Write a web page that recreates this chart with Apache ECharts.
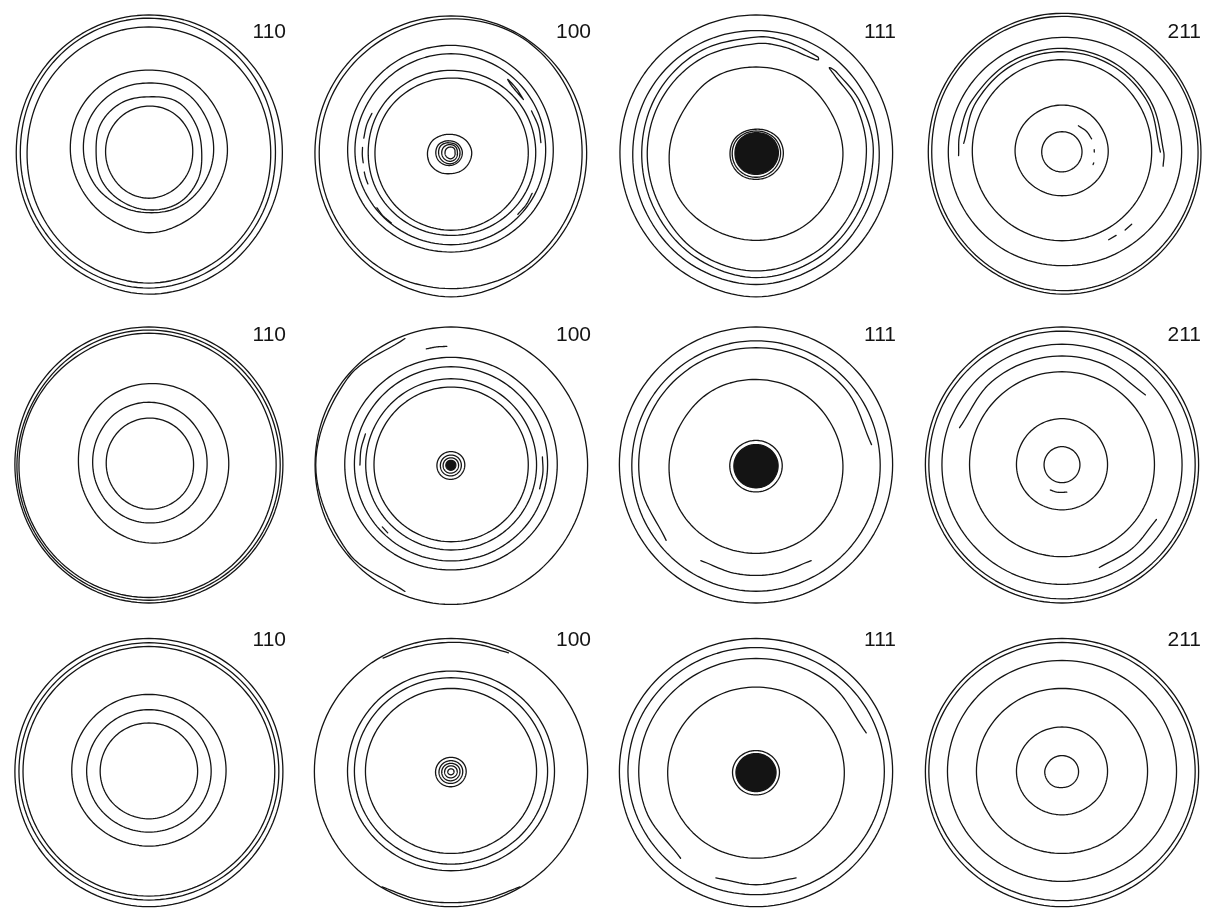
<!DOCTYPE html>
<html>
<head>
<meta charset="utf-8">
<title>Pole figures</title>
<script src="https://cdn.jsdelivr.net/npm/echarts@6.0.0/dist/echarts.min.js"></script>
<style>
  html, body { margin: 0; padding: 0; background: #fff; }
  #chart { width: 1222px; height: 918px; }
</style>
</head>
<body>
<div id="chart"></div>
<script>
// Pole figures of three samples (rows) for the 110, 100, 111 and 211 poles (columns).
// Closed contours are radii (fraction of the projection radius) sampled at ANGLES;
// open arcs and irregular loops are lists of [azimuth in degrees, radius].
const ANGLES = [0, 30, 60, 90, 120, 150, 180, 210, 240, 270, 300, 330];
const POLES = ['110', '100', '111', '211'];

// ---------- sample 1 ----------
const S1_110_RINGS = [
  [0.986, 0.988, 0.991, 0.993, 0.99, 0.984, 0.98, 0.99, 1.01, 1.03, 1.015, 0.995],
  [0.935, 0.947, 0.96, 0.97, 0.965, 0.957, 0.95, 0.96, 0.975, 0.986, 0.97, 0.95],
  [0.9, 0.903, 0.905, 0.906, 0.905, 0.902, 0.9, 0.915, 0.935, 0.95, 0.935, 0.915],
  [0.58, 0.585, 0.6, 0.594, 0.6, 0.595, 0.58, 0.565, 0.565, 0.585, 0.57, 0.565],
  [0.478, 0.49, 0.51, 0.5, 0.505, 0.5, 0.483, 0.465, 0.445, 0.44, 0.456, 0.465],
  [0.39, 0.4, 0.42, 0.4, 0.41, 0.41, 0.39, 0.405, 0.41, 0.42, 0.43, 0.415],
  [0.324, 0.33, 0.335, 0.333, 0.33, 0.325, 0.32, 0.322, 0.33, 0.335, 0.33, 0.326]
];
const S1_100_RINGS = [
  [0.983, 0.985, 0.985, 0.986, 0.986, 0.986, 0.986, 0.995, 1.02, 1.05, 1.02, 0.995],
  [0.95, 0.96, 0.975, 0.965, 0.955, 0.955, 0.955, 0.965, 0.985, 0.99, 0.99, 0.965],
  [0.741, 0.75, 0.765, 0.773, 0.768, 0.757, 0.749, 0.74, 0.73, 0.725, 0.728, 0.735],
  [0.686, 0.695, 0.705, 0.712, 0.708, 0.7, 0.696, 0.685, 0.675, 0.672, 0.675, 0.68],
  [0.614, 0.61, 0.6, 0.592, 0.595, 0.6, 0.6, 0.605, 0.605, 0.604, 0.61, 0.615],
  [0.56, 0.555, 0.545, 0.536, 0.54, 0.548, 0.551, 0.557, 0.563, 0.567, 0.565, 0.562],
  [0.15, 0.14, 0.13, 0.128, 0.138, 0.158, 0.17, 0.175, 0.168, 0.157, 0.155, 0.152],
  [0.082, 0.078, 0.078, 0.08, 0.09, 0.105, 0.11, 0.11, 0.104, 0.097, 0.09, 0.085],
  [0.065, 0.063, 0.064, 0.065, 0.075, 0.087, 0.09, 0.09, 0.088, 0.085, 0.078, 0.07],
  [0.046, 0.048, 0.051, 0.053, 0.058, 0.064, 0.067, 0.069, 0.069, 0.067, 0.06, 0.052],
  [0.029, 0.032, 0.035, 0.036, 0.038, 0.041, 0.043, 0.046, 0.048, 0.049, 0.042, 0.034]
];
const S1_100_ARCS = [
  [[154, 0.638], [162, 0.642], [171, 0.64]],
  [[177, 0.642], [182, 0.643], [187, 0.641]],
  [[193, 0.645], [197, 0.646], [201, 0.645]],
  [[36, 0.648], [44, 0.66], [52, 0.668], [48, 0.652], [40, 0.645], [36, 0.648]],
  [[6, 0.655], [16, 0.66], [27, 0.655]],
  [[317, 0.662], [325, 0.665], [333, 0.66]],
  [[217, 0.672], [223, 0.676], [230, 0.672]]
];
const S1_111_RINGS = [
  [0.99, 0.99, 0.992, 0.993, 0.99, 0.988, 0.986, 0.995, 1.02, 1.05, 1.02, 0.998],
  [0.893, 0.89, 0.885, 0.88, 0.885, 0.89, 0.893, 0.91, 0.94, 0.96, 0.94, 0.91],
  [0.63, 0.613, 0.62, 0.616, 0.62, 0.605, 0.628, 0.65, 0.64, 0.64, 0.64, 0.63],
  [0.198, 0.19, 0.175, 0.165, 0.17, 0.182, 0.188, 0.195, 0.2, 0.198, 0.2, 0.2],
  [0.178, 0.17, 0.158, 0.152, 0.156, 0.166, 0.172, 0.178, 0.182, 0.183, 0.182, 0.18]
];
const S1_111_LOOPS = [
  [[57, 0.822], [75, 0.83], [90, 0.833], [120, 0.835], [150, 0.83], [180, 0.828], [210, 0.845],
   [240, 0.88], [270, 0.91], [300, 0.89], [330, 0.86], [360, 0.85], [385, 0.837], [405, 0.822],
   [409, 0.81], [405, 0.797], [385, 0.8], [360, 0.8], [330, 0.815], [300, 0.845], [270, 0.862],
   [240, 0.84], [210, 0.8], [180, 0.788], [150, 0.785], [120, 0.785], [90, 0.785], [75, 0.787],
   [60, 0.79], [56, 0.805]]
];
const S1_111_FILLS = [
  [0.162, 0.156, 0.146, 0.14, 0.143, 0.149, 0.152, 0.158, 0.162, 0.162, 0.163, 0.163]
];
const S1_211_RINGS = [
  [1.007, 1.005, 1.005, 1.005, 0.995, 0.98, 0.969, 0.98, 1.005, 1.03, 1.025, 1.015],
  [0.986, 0.985, 0.984, 0.983, 0.973, 0.958, 0.944, 0.957, 0.983, 1.005, 1.0, 0.992],
  [0.867, 0.86, 0.845, 0.831, 0.826, 0.824, 0.824, 0.823, 0.823, 0.824, 0.835, 0.852],
  [0.65, 0.655, 0.663, 0.669, 0.665, 0.656, 0.65, 0.646, 0.643, 0.643, 0.645, 0.648],
  [0.335, 0.335, 0.34, 0.34, 0.34, 0.342, 0.34, 0.33, 0.32, 0.317, 0.32, 0.328],
  [0.145, 0.146, 0.148, 0.147, 0.147, 0.147, 0.147, 0.146, 0.145, 0.144, 0.143, 0.144]
];
const S1_211_ARCS = [
  [[-8, 0.74], [0, 0.737], [30, 0.74], [60, 0.748], [90, 0.751], [120, 0.752], [150, 0.752], [170, 0.752], [182, 0.75]],
  [[0, 0.713], [30, 0.718], [60, 0.724], [90, 0.727], [120, 0.725], [150, 0.72], [175, 0.715]],
  [[24, 0.235], [40, 0.232], [58, 0.224]],
  [[0, 0.234], [4, 0.234]],
  [[-19, 0.243], [-22, 0.243]],
  [[298, 0.72], [303, 0.72]],
  [[309, 0.727], [314, 0.727]]
];

// ---------- sample 2 ----------
const S2_110_RINGS = [
  [0.99, 0.995, 1.0, 1.0, 1.0, 0.995, 0.99, 0.99, 0.995, 1.0, 0.995, 0.99],
  [0.97, 0.972, 0.975, 0.978, 0.975, 0.97, 0.975, 0.975, 0.978, 0.98, 0.975, 0.972],
  [0.94, 0.945, 0.95, 0.955, 0.95, 0.955, 0.96, 0.96, 0.96, 0.96, 0.955, 0.945],
  [0.59, 0.595, 0.6, 0.59, 0.575, 0.545, 0.52, 0.52, 0.54, 0.565, 0.58, 0.585],
  [0.43, 0.44, 0.45, 0.455, 0.45, 0.43, 0.415, 0.41, 0.415, 0.42, 0.425, 0.43],
  [0.33, 0.335, 0.34, 0.34, 0.335, 0.325, 0.315, 0.312, 0.315, 0.32, 0.325, 0.33]
];
const S2_100_RINGS = [
  [0.99, 0.99, 0.995, 1.0, 0.995, 0.99, 0.985, 0.99, 1.0, 1.01, 1.0, 0.99],
  [0.77, 0.775, 0.78, 0.78, 0.78, 0.775, 0.77, 0.77, 0.765, 0.76, 0.765, 0.77],
  [0.7, 0.705, 0.71, 0.712, 0.71, 0.705, 0.7, 0.698, 0.696, 0.695, 0.697, 0.7],
  [0.62, 0.622, 0.625, 0.625, 0.623, 0.62, 0.618, 0.616, 0.615, 0.616, 0.618, 0.62],
  [0.56, 0.562, 0.565, 0.565, 0.563, 0.56, 0.558, 0.556, 0.555, 0.556, 0.558, 0.56],
  [0.1, 0.1, 0.098, 0.097, 0.098, 0.1, 0.102, 0.104, 0.105, 0.104, 0.102, 0.1],
  [0.075, 0.074, 0.073, 0.072, 0.073, 0.075, 0.077, 0.079, 0.08, 0.079, 0.077, 0.076],
  [0.055, 0.054, 0.053, 0.052, 0.053, 0.055, 0.057, 0.059, 0.06, 0.059, 0.057, 0.056]
];
const S2_100_ARCS = [
  [[110, 0.975], [140, 0.978], [180, 0.98], [220, 0.978], [250, 0.975]],
  [[92, 0.86], [97, 0.862], [102, 0.86]],
  [[160, 0.66], [170, 0.662], [180, 0.66]],
  [[345, 0.665], [355, 0.668], [5, 0.665]],
  [[222, 0.67], [227, 0.672]]
];
const S2_100_FILLS = [
  [0.035, 0.035, 0.034, 0.034, 0.035, 0.036, 0.037, 0.038, 0.038, 0.038, 0.037, 0.036]
];
const S2_111_RINGS = [
  [0.99, 0.995, 1.0, 1.0, 1.0, 0.995, 0.99, 0.99, 0.995, 1.0, 0.995, 0.99],
  [0.9, 0.9, 0.9, 0.9, 0.9, 0.9, 0.9, 0.905, 0.91, 0.915, 0.91, 0.905],
  [0.63, 0.62, 0.62, 0.62, 0.625, 0.62, 0.63, 0.64, 0.64, 0.64, 0.64, 0.635],
  [0.19, 0.185, 0.18, 0.178, 0.18, 0.185, 0.19, 0.192, 0.195, 0.195, 0.195, 0.192]
];
const S2_111_ARCS = [
  [[10, 0.85], [40, 0.85], [70, 0.85], [100, 0.85], [130, 0.85], [160, 0.85], [190, 0.85], [220, 0.85]],
  [[240, 0.8], [260, 0.8], [280, 0.8], [300, 0.8]]
];
const S2_111_FILLS = [
  [0.16, 0.155, 0.15, 0.148, 0.15, 0.155, 0.16, 0.163, 0.165, 0.165, 0.165, 0.162]
];
const S2_211_RINGS = [
  [0.99, 0.995, 1.0, 1.0, 1.0, 0.995, 0.99, 0.99, 0.995, 1.0, 0.995, 0.99],
  [0.965, 0.968, 0.97, 0.97, 0.97, 0.968, 0.965, 0.965, 0.967, 0.97, 0.968, 0.966],
  [0.87, 0.872, 0.874, 0.875, 0.874, 0.872, 0.87, 0.868, 0.866, 0.865, 0.866, 0.868],
  [0.67, 0.672, 0.675, 0.676, 0.675, 0.672, 0.67, 0.668, 0.665, 0.664, 0.665, 0.668],
  [0.33, 0.332, 0.335, 0.336, 0.335, 0.332, 0.33, 0.328, 0.326, 0.325, 0.326, 0.328],
  [0.13, 0.131, 0.132, 0.133, 0.132, 0.131, 0.13, 0.129, 0.128, 0.128, 0.128, 0.129]
];
const S2_211_ARCS = [
  [[40, 0.79], [70, 0.79], [100, 0.79], [130, 0.79], [160, 0.79]],
  [[290, 0.79], [310, 0.79], [330, 0.79]],
  [[245, 0.2], [260, 0.2], [280, 0.2]]
];

// ---------- sample 3 ----------
const S3_110_RINGS = [
  [0.99, 0.995, 1.0, 1.0, 1.0, 0.995, 0.99, 0.995, 1.005, 1.015, 1.005, 0.995],
  [0.96, 0.962, 0.965, 0.968, 0.965, 0.962, 0.96, 0.96, 0.962, 0.965, 0.962, 0.96],
  [0.93, 0.932, 0.935, 0.94, 0.935, 0.932, 0.93, 0.93, 0.932, 0.935, 0.932, 0.93],
  [0.57, 0.575, 0.58, 0.58, 0.58, 0.575, 0.57, 0.565, 0.56, 0.56, 0.56, 0.565],
  [0.46, 0.462, 0.465, 0.465, 0.465, 0.462, 0.46, 0.458, 0.455, 0.455, 0.455, 0.458],
  [0.36, 0.362, 0.365, 0.365, 0.365, 0.362, 0.36, 0.358, 0.355, 0.355, 0.355, 0.358]
];
const S3_100_RINGS = [
  [0.99, 0.995, 1.0, 1.0, 1.0, 0.995, 0.99, 0.995, 1.005, 1.015, 1.005, 0.995],
  [0.75, 0.752, 0.755, 0.755, 0.755, 0.752, 0.75, 0.748, 0.745, 0.745, 0.745, 0.748],
  [0.7, 0.702, 0.705, 0.705, 0.705, 0.702, 0.7, 0.698, 0.695, 0.695, 0.695, 0.698],
  [0.62, 0.622, 0.625, 0.625, 0.625, 0.622, 0.62, 0.618, 0.615, 0.615, 0.615, 0.618],
  [0.11, 0.11, 0.108, 0.107, 0.108, 0.11, 0.112, 0.114, 0.115, 0.114, 0.112, 0.11],
  [0.085, 0.085, 0.083, 0.082, 0.083, 0.085, 0.087, 0.089, 0.09, 0.089, 0.087, 0.085],
  [0.065, 0.065, 0.063, 0.062, 0.063, 0.065, 0.067, 0.069, 0.07, 0.069, 0.067, 0.065],
  [0.045, 0.045, 0.044, 0.043, 0.044, 0.045, 0.046, 0.047, 0.048, 0.047, 0.046, 0.045],
  [0.022, 0.022, 0.021, 0.021, 0.021, 0.022, 0.023, 0.024, 0.024, 0.024, 0.023, 0.022]
];
const S3_100_ARCS = [
  [[65, 0.985], [80, 0.975], [95, 0.97], [110, 0.975], [120, 0.985]],
  [[240, 1.0], [255, 0.99], [270, 0.985], [285, 0.99], [300, 1.0]]
];
const S3_111_RINGS = [
  [0.99, 0.995, 1.0, 1.0, 1.0, 0.995, 0.99, 0.995, 1.005, 1.015, 1.005, 0.995],
  [0.93, 0.93, 0.93, 0.932, 0.932, 0.93, 0.928, 0.926, 0.925, 0.925, 0.926, 0.928],
  [0.64, 0.635, 0.635, 0.635, 0.635, 0.635, 0.64, 0.645, 0.65, 0.65, 0.65, 0.645],
  [0.17, 0.165, 0.16, 0.158, 0.16, 0.165, 0.17, 0.172, 0.175, 0.175, 0.175, 0.172]
];
const S3_111_ARCS = [
  [[20, 0.85], [50, 0.85], [80, 0.85], [110, 0.85], [140, 0.85], [170, 0.85], [200, 0.85], [230, 0.85]],
  [[250, 0.85], [270, 0.85], [290, 0.85]]
];
const S3_111_FILLS = [
  [0.145, 0.14, 0.137, 0.135, 0.137, 0.14, 0.145, 0.148, 0.15, 0.15, 0.15, 0.148]
];
const S3_211_RINGS = [
  [0.99, 0.995, 1.0, 1.0, 1.0, 0.995, 0.99, 0.995, 1.005, 1.015, 1.005, 0.995],
  [0.965, 0.968, 0.97, 0.97, 0.97, 0.968, 0.965, 0.965, 0.967, 0.97, 0.968, 0.966],
  [0.83, 0.832, 0.835, 0.835, 0.835, 0.832, 0.83, 0.828, 0.825, 0.825, 0.825, 0.828],
  [0.62, 0.622, 0.625, 0.625, 0.625, 0.622, 0.62, 0.618, 0.615, 0.615, 0.615, 0.618],
  [0.33, 0.332, 0.335, 0.335, 0.335, 0.332, 0.33, 0.328, 0.325, 0.325, 0.325, 0.328],
  [0.12, 0.12, 0.12, 0.12, 0.12, 0.12, 0.125, 0.125, 0.125, 0.12, 0.12, 0.12]
];

// ---------- layout ----------
const R_PX = 138;                        // projection radius in pixels
const COL_X = [146, 451, 756, 1062];     // pole centres
const ROW_Y = [152, 465, 777];
const LABEL_RIGHT = [286, 591, 896, 1201];
const LABEL_Y = [32, 335, 640];
const INK = '#141414';
const LINE_W = 1.3;

const PANELS = [
  [{ rings: S1_110_RINGS }, { rings: S1_100_RINGS, arcs: S1_100_ARCS },
   { rings: S1_111_RINGS, loops: S1_111_LOOPS, fills: S1_111_FILLS }, { rings: S1_211_RINGS, arcs: S1_211_ARCS }],
  [{ rings: S2_110_RINGS }, { rings: S2_100_RINGS, arcs: S2_100_ARCS, fills: S2_100_FILLS },
   { rings: S2_111_RINGS, arcs: S2_111_ARCS, fills: S2_111_FILLS }, { rings: S2_211_RINGS, arcs: S2_211_ARCS }],
  [{ rings: S3_110_RINGS }, { rings: S3_100_RINGS, arcs: S3_100_ARCS },
   { rings: S3_111_RINGS, arcs: S3_111_ARCS, fills: S3_111_FILLS }, { rings: S3_211_RINGS }]
];

// Catmull-Rom style bezier through pixel points, flattened to a dense polyline
function smoothPoints(pts, closed, s) {
  const n = pts.length;
  if (n < 3) return pts;
  const get = (i) => closed ? pts[(i + n) % n] : pts[Math.max(0, Math.min(n - 1, i))];
  const ctrl = (i) => {
    const p = get(i), a = get(i - 1), b = get(i + 1);
    const d0 = Math.hypot(p[0] - a[0], p[1] - a[1]);
    const d1 = Math.hypot(p[0] - b[0], p[1] - b[1]);
    const sum = (d0 + d1) || 1;
    const vx = b[0] - a[0], vy = b[1] - a[1];
    return {
      inP: [p[0] - vx * s * d0 / sum, p[1] - vy * s * d0 / sum],
      outP: [p[0] + vx * s * d1 / sum, p[1] + vy * s * d1 / sum]
    };
  };
  const out = [];
  const segs = closed ? n : n - 1;
  for (let i = 0; i < segs; i++) {
    const p0 = get(i), p3 = get(i + 1);
    const p1 = ctrl(i).outP, p2 = ctrl(i + 1).inP;
    for (let k = 0; k < 12; k++) {
      const t = k / 12, u = 1 - t;
      out.push([
        u * u * u * p0[0] + 3 * u * u * t * p1[0] + 3 * u * t * t * p2[0] + t * t * t * p3[0],
        u * u * u * p0[1] + 3 * u * u * t * p1[1] + 3 * u * t * t * p2[1] + t * t * t * p3[1]
      ]);
    }
  }
  if (!closed) out.push(get(n - 1));
  return out;
}

function toXY(angleDeg, r) {
  const a = angleDeg * Math.PI / 180;
  return [r * Math.cos(a), r * Math.sin(a)];
}

const grids = [], xAxes = [], yAxes = [], series = [], graphics = [];
PANELS.forEach((row, ri) => {
  row.forEach((panel, ci) => {
    const gi = grids.length;
    const half = 1.1 * R_PX;
    grids.push({ left: COL_X[ci] - half, top: ROW_Y[ri] - half, width: 2 * half, height: 2 * half });
    xAxes.push({ gridIndex: gi, type: 'value', min: -1.1, max: 1.1, show: false });
    yAxes.push({ gridIndex: gi, type: 'value', min: -1.1, max: 1.1, show: false });

    const shapes = [];
    (panel.rings || []).forEach(radii => shapes.push({ pts: ANGLES.map((a, k) => [a, radii[k]]), closed: true, filled: false }));
    (panel.loops || []).forEach(pts => shapes.push({ pts, closed: true, filled: false }));
    (panel.arcs || []).forEach(pts => shapes.push({ pts, closed: false, filled: false }));
    (panel.fills || []).forEach(radii => shapes.push({ pts: ANGLES.map((a, k) => [a, radii[k]]), closed: true, filled: true }));

    series.push({
      type: 'custom',
      xAxisIndex: gi,
      yAxisIndex: gi,
      silent: true,
      animation: false,
      data: shapes.map((s, i) => [i]),
      renderItem: (params, api) => {
        const shp = shapes[api.value(0)];
        const px = shp.pts.map(p => api.coord(toXY(p[0], p[1])));
        const pts = smoothPoints(px, shp.closed, 0.35);
        return {
          type: shp.closed ? 'polygon' : 'polyline',
          shape: { points: pts },
          style: shp.filled
            ? { fill: INK, stroke: INK, lineWidth: LINE_W }
            : { fill: 'none', stroke: INK, lineWidth: LINE_W, lineJoin: 'round', lineCap: 'round' }
        };
      }
    });

    graphics.push({
      type: 'text',
      x: LABEL_RIGHT[ci],
      y: LABEL_Y[ri],
      silent: true,
      style: {
        text: POLES[ci],
        fill: INK,
        font: '21px "Liberation Sans", Arial, sans-serif',
        align: 'right',
        verticalAlign: 'middle'
      }
    });
  });
});

const chart = echarts.init(document.getElementById('chart'), null, { renderer: 'canvas' });
chart.setOption({
  backgroundColor: '#ffffff',
  animation: false,
  grid: grids,
  xAxis: xAxes,
  yAxis: yAxes,
  series: series,
  graphic: graphics
});
</script>
</body>
</html>
